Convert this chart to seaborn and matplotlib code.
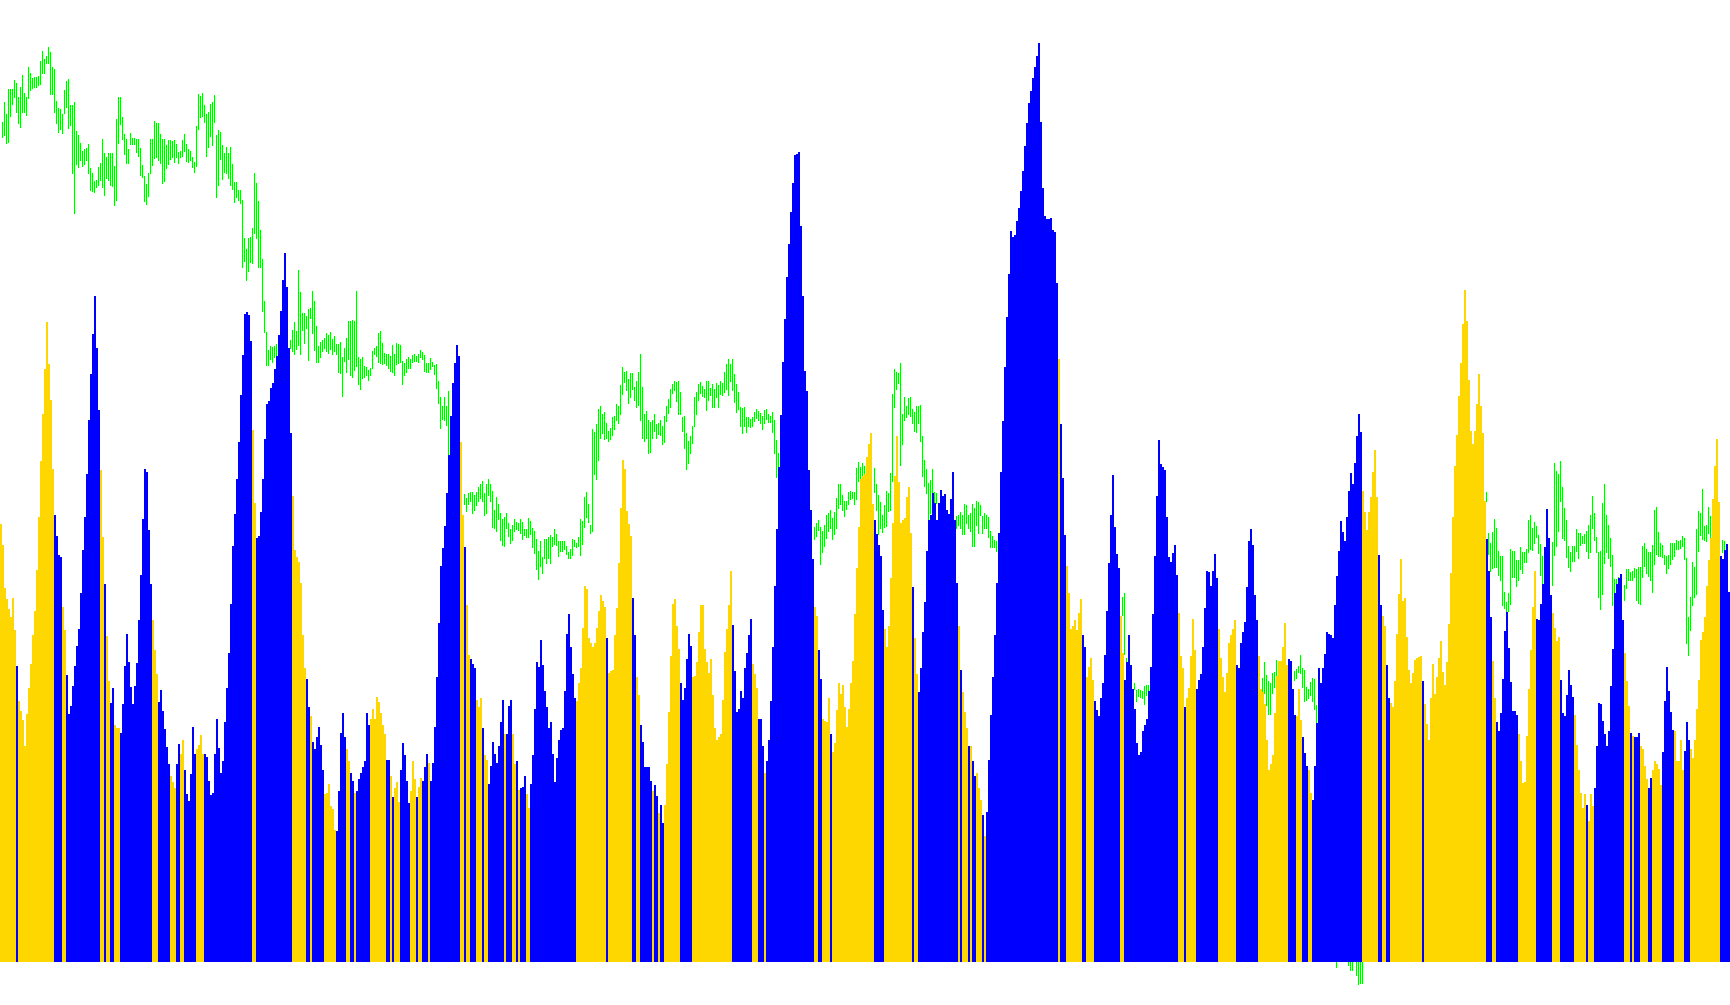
import matplotlib
matplotlib.use("Agg")
import matplotlib.pyplot as plt
import seaborn as sns
import pandas as pd
import numpy as np

# histogram height of every bar, left to right (pixels above the zero line)
bar_values = [
    438, 417, 374, 363, 353, 345, 364, 332, 296, 261,
    251, 242, 216, 248, 274, 298, 327, 351, 392, 445,
    501, 548, 593, 640, 598, 562, 493, 447, 426, 407,
    405, 355, 332, 287, 248, 256, 276, 296, 316, 333,
    369, 412, 445, 488, 542, 588, 628, 666, 614, 552,
    492, 425, 378, 326, 281, 259, 274, 237, 234, 234,
    229, 258, 296, 328, 300, 275, 258, 276, 299, 342,
    387, 443, 493, 490, 432, 378, 342, 312, 288, 260,
    272, 251, 233, 215, 198, 186, 180, 174, 198, 218,
    208, 222, 192, 168, 161, 188, 235, 208, 213, 217,
    227, 208, 208, 205, 181, 167, 169, 208, 243, 214,
    189, 201, 240, 274, 309, 358, 416, 448, 483, 520,
    567, 607, 648, 650, 647, 621, 532, 459, 424, 426,
    450, 483, 523, 558, 561, 574, 579, 593, 606, 627,
    651, 682, 709, 675, 614, 529, 466, 412, 405, 400,
    379, 327, 294, 283, 255, 246, 220, 213, 225, 235,
    217, 192, 168, 169, 178, 156, 153, 132, 131, 171,
    229, 249, 225, 213, 201, 189, 181, 169, 171, 183,
    189, 195, 201, 249, 237, 243, 253, 243, 265, 260,
    249, 237, 228, 202, 202, 186, 165, 174, 180, 160,
    192, 219, 207, 181, 159, 171, 201, 183, 165, 175,
    184, 181, 195, 208, 199, 181, 199, 235, 285, 339,
    396, 414, 436, 469, 507, 546, 579, 599, 617, 606,
    520, 447, 415, 357, 307, 303, 298, 294, 262, 255,
    264, 234, 207, 202, 178, 196, 220, 208, 199, 216,
    240, 262, 228, 228, 256, 262, 228, 198, 201, 172,
    174, 175, 186, 168, 154, 178, 207, 253, 300, 295,
    322, 297, 271, 255, 234, 240, 208, 180, 204, 222,
    232, 234, 271, 328, 348, 315, 288, 264, 261, 279,
    294, 334, 376, 373, 324, 319, 315, 319, 334, 351,
    367, 361, 355, 324, 289, 291, 292, 327, 354, 399,
    454, 502, 493, 451, 438, 426, 364, 327, 285, 267,
    237, 220, 195, 195, 195, 181, 171, 177, 166, 149,
    157, 139, 157, 198, 250, 306, 358, 363, 336, 313,
    279, 262, 274, 303, 328, 316, 285, 286, 300, 330,
    357, 357, 313, 300, 289, 303, 267, 234, 222, 225,
    228, 262, 310, 333, 357, 391, 337, 291, 250, 253,
    271, 264, 294, 309, 327, 343, 298, 288, 274, 243,
    243, 216, 189, 201, 222, 261, 315, 376, 433, 495,
    547, 600, 643, 685, 718, 750, 779, 807, 808, 810,
    736, 666, 591, 571, 492, 452, 403, 355, 346, 312,
    283, 243, 241, 240, 264, 228, 210, 219, 252, 279,
    268, 277, 255, 235, 253, 279, 301, 348, 394, 435,
    483, 486, 488, 505, 518, 529, 458, 442, 428, 417,
    406, 352, 333, 315, 336, 384, 439, 486, 526, 480,
    439, 442, 444, 465, 475, 429, 375, 324, 288, 270,
    294, 330, 360, 411, 442, 447, 469, 459, 442, 459,
    472, 466, 468, 452, 448, 463, 490, 442, 379, 336,
    292, 270, 250, 234, 216, 216, 201, 186, 189, 174,
    162, 147, 126, 150, 202, 247, 285, 327, 379, 429,
    490, 541, 595, 645, 688, 731, 725, 727, 741, 754,
    771, 791, 816, 839, 859, 871, 884, 895, 906, 919,
    840, 774, 746, 743, 743, 744, 732, 730, 679, 603,
    538, 484, 427, 396, 369, 333, 336, 342, 332, 349,
    363, 327, 315, 285, 295, 304, 282, 261, 252, 246,
    264, 279, 307, 351, 399, 447, 487, 435, 408, 394,
    346, 309, 282, 300, 327, 297, 273, 253, 219, 207,
    210, 231, 237, 243, 271, 295, 348, 406, 466, 522,
    498, 495, 492, 445, 405, 400, 409, 417, 387, 349,
    306, 294, 255, 264, 274, 306, 343, 312, 273, 282,
    288, 315, 354, 391, 390, 376, 391, 408, 384, 333,
    304, 285, 270, 289, 319, 327, 333, 342, 297, 294,
    319, 330, 340, 375, 421, 433, 417, 367, 342, 306,
    273, 270, 258, 222, 192, 198, 207, 249, 286, 301,
    301, 315, 339, 297, 303, 301, 273, 247, 246, 273,
    242, 225, 209, 196, 192, 169, 162, 196, 239, 294,
    279, 294, 308, 330, 328, 327, 324, 357, 386, 411,
    441, 430, 421, 445, 471, 489, 478, 499, 526, 548,
    530, 471, 450, 432, 450, 465, 490, 512, 465, 407,
    357, 346, 336, 297, 264, 259, 255, 281, 328, 368,
    403, 361, 364, 325, 292, 279, 289, 302, 304, 305,
    306, 281, 258, 238, 222, 264, 298, 268, 285, 304,
    321, 290, 277, 300, 338, 389, 445, 496, 527, 566,
    599, 638, 672, 641, 582, 531, 518, 531, 558, 588,
    556, 529, 461, 423, 391, 345, 301, 264, 240, 231,
    249, 283, 331, 350, 314, 280, 251, 251, 247, 228,
    201, 179, 180, 226, 273, 312, 355, 391, 343, 342,
    358, 378, 415, 453, 424, 367, 349, 334, 321, 325,
    282, 249, 246, 267, 292, 277, 265, 247, 217, 192,
    169, 154, 168, 157, 141, 168, 156, 174, 216, 259,
    258, 241, 228, 216, 231, 276, 313, 369, 378, 384,
    388, 342, 309, 281, 256, 229, 226, 225, 225, 229,
    216, 213, 196, 183, 174, 184, 192, 201, 198, 193,
    177, 210, 261, 295, 271, 250, 232, 231, 201, 201,
    222, 192, 211, 240, 222, 213, 204, 222, 253, 282,
    322, 330, 345, 376, 402, 424, 463, 496, 523, 460,
    406, 403, 412, 418, 370,
]

# colour of every bar: Y = gold, B = blue
bar_side = (
    "YYYYYYYYBY" "YYYYYYYYYY" "YYYYYYYBBB" "BYYBBBBBBB" "BBBBBBBBBB"
    "YYBYYBBYYY" "BBBBBBBBBB" "BBBBBBYYYB" "BBBBBYYYBB" "YYBBBBBBYY"
    "YYBBBBBBBB" "BBBBBBBBBB" "BBBBBBYYBB" "BBBBBBBBBB" "BBBBBBYYYY"
    "YYYBBYBBBB" "BBYYYYYYBB" "BBBYYBBYBB" "BBBBBYYYYY" "YYYBBYBYYY"
    "BBBBBYYYBY" "YBBBYBBBBB" "BBBBBBBBBB" "YYBYYBBBYY" "YBYYBBBBBB"
    "BBYBBBYYBY" "BBBYYBBBBB" "BBBBBBBBBB" "BBBBBBBBYY" "YYYYYYYYYY"
    "YYYBYYYYYY" "YYYYYYBBYY" "BBBBBBYBBY" "BBYYYYYYYY" "BBBBBBYYYY"
    "YYYYYYYYYY" "YYYYYYBBBB" "BBBBBBYYYB" "BBYBBBBBBB" "BBBBBBBBBB"
    "BBBBBBBYYB" "BYYYYBYYYY" "YYYYYYYYYY" "YYYYYYYBBB" "BBYYYYYYYY"
    "YYYYYYBYYB" "BBBBBBBBBB" "BBBBBBBBBY" "BYYYBYBBYY" "YBYBBBBBBB"
    "BBBBBBBBBB" "BBBBBBBBBB" "BBBBBBBBBY" "BBBYYYYYYY" "YBBYYYYBBB"
    "BBBBBBBBBB" "YYBBBBBBBB" "BBBBBBBBBB" "BBBBBBBBBY" "YYBYYYYYBB"
    "BBBBBBBBBY" "YYYYYYYYBB" "BBBBBBBBBY" "YYYYYYYYYY" "YYYYBBBBYY"
    "YBBBYYBBBB" "BBBBBBBBBB" "BBBBBBBBBB" "BYYYYYYYYB" "BYYBBYYYYY"
    "YYYYYYYYYY" "YBYYYYYYYY" "YYYYYYYYYY" "YYYYYYYYYY" "YYYBBBYYBB"
    "BBBBBBBBBY" "YYYYYYYYBB" "BBBBBBYYYY" "BBBBBBBYYY" "YYYBYYYBBB"
    "BBBBBBBBBB" "BBYYYBYBBB" "YYYYBBYYYY" "YBBBBBBYYY" "YYBBBYYYYY"
    "YYYYYYYYYY" "BBBBB"
)

# price bars (high, low) behind the histogram; None where fully hidden
price_range = [
    (840, 825), (860, 827), (848, 819), (873, 820), (873, 846), (873, 858), (882, 865), (879, 850), (865, 839), (875, 835),
    (887, 850), (869, 850), (865, 847), (895, 864), (889, 872), (884, 874), (885, 875), (885, 875), (886, 877), (901, 878),
    (911, 889), (903, 889), (906, 899), (915, 899), (910, 868), (895, 868), (893, 850), (861, 839), (854, 830), (853, 833),
    (848, 829), (872, 849), (881, 855), (883, 834), (857, 837), (857, 789), (860, 749), (831, 798), (827, 795), (819, 802),
    (811, 796), (813, 798), (814, 802), (818, 789), (794, 772), (789, 771), (781, 770), (782, 775), (795, 777), (799, 782),
    (823, 775), (809, 767), (805, 784), (809, 782), (809, 777), (809, 776), (796, 757), (843, 762), (865, 819), (865, 838),
    (845, 823), (828, 808), (823, 799), (813, 799), (829, 818), (824, 818), (824, 818), (823, 810), (823, 806), (814, 787),
    (797, 785), (786, 761), (778, 758), (789, 766), (823, 789), (823, 797), (841, 804), (839, 805), (839, 802), (828, 799),
    (823, 779), (823, 781), (817, 794), (822, 798), (822, 803), (821, 805), (822, 800), (818, 805), (810, 799), (811, 805),
    (822, 806), (828, 811), (818, 801), (813, 800), (811, 802), (805, 795), (800, 790), (836, 796), (868, 833), (866, 845),
    (869, 846), (857, 840), (848, 806), (850, 815), (858, 826), (860, 817), (867, 840), (827, 765), (832, 777), (830, 803),
    (817, 783), (809, 790), (815, 789), (809, 784), (815, 777), (798, 773), (780, 760), (780, 765), (772, 762), (772, 759),
    (762, 695), (724, 701), (713, 682), (724, 691), (725, 700), (734, 699), (789, 729), (779, 724), (761, 695), (732, 695),
    (703, 651), (661, 630), (630, 597), (612, 597), (616, 603), (615, 600), (616, 605), (618, 594), (618, 608), None,
    None, None, None, None, (622, 614), (632, 611), (640, 608), (631, 613), (692, 617), (670, 608),
    (649, 632), (649, 619), (646, 634), (653, 602), (654, 644), (671, 629), (661, 612), (636, 600), (616, 600), (620, 605),
    (622, 611), (624, 614), (629, 611), (627, 609), (630, 613), (623, 608), (626, 611), (618, 608), (618, 590), (620, 589),
    (605, 566), (614, 601), (624, 590), (641, 603), (641, 587), (642, 585), (641, 592), (671, 596), (605, 578), (603, 573),
    (605, 584), (596, 585), (595, 587), (592, 582), (594, 587), (611, 594), (614, 608), (616, 606), (629, 600), (631, 599),
    (619, 598), (609, 599), (608, 597), (608, 594), (606, 591), (617, 590), (608, 587), (619, 598), (618, 599), (617, 600),
    (601, 578), (599, 587), (603, 590), (605, 594), (603, 594), (607, 600), (608, 601), (606, 601), (608, 600), (612, 605),
    (610, 603), (607, 591), (599, 590), (599, 590), (604, 593), (600, 596), (597, 588), (598, 574), (581, 559), (565, 534),
    (556, 543), (565, 542), (556, 537), (571, 478), None, None, None, None, None, None,
    None, (468, 458), (464, 451), (469, 458), (470, 461), (470, 449), (467, 452), (470, 457), (475, 461), (478, 464),
    (481, 461), (469, 447), (478, 449), (483, 467), (478, 461), (471, 435), (452, 434), (465, 431), (458, 443), (449, 422),
    (443, 417), (445, 416), (449, 434), (439, 426), (433, 419), (437, 422), (443, 431), (440, 433), (439, 432), (443, 429),
    (440, 423), (433, 427), (433, 425), (444, 425), (441, 428), (434, 415), (431, 409), (423, 393), (411, 383), (421, 396),
    (405, 389), (423, 404), (423, 399), (425, 404), (427, 399), (425, 416), (433, 418), (428, 417), (421, 406), (421, 411),
    (421, 411), (421, 413), (416, 408), (410, 404), (413, 404), (423, 407), (422, 416), (419, 415), (425, 416), (443, 407),
    (441, 418), (465, 435), (470, 445), (458, 440), (437, 429), (533, 431), (530, 488), (538, 483), (553, 502), (556, 524),
    (548, 529), (550, 523), (539, 524), (531, 521), (534, 523), (545, 527), (546, 533), (558, 542), (556, 539), (577, 548),
    (595, 568), (590, 580), (591, 572), (583, 559), (589, 565), (589, 573), (575, 562), (581, 555), (590, 557), (608, 542),
    (575, 524), (548, 521), (551, 524), (542, 509), (540, 510), (542, 524), (548, 531), (538, 524), (539, 528), (542, 527),
    (536, 518), (546, 520), (556, 541), (563, 549), (573, 555), (578, 569), (581, 572), (580, 561), (581, 548), (570, 548),
    (545, 531), (546, 514), (529, 493), (521, 499), (526, 509), (536, 519), (565, 536), (570, 548), (578, 562), (580, 569),
    (576, 566), (573, 565), (581, 552), (581, 562), (574, 567), (578, 555), (573, 555), (579, 565), (577, 555), (581, 568),
    (579, 567), (590, 570), (598, 573), (603, 567), (598, 581), (603, 572), (588, 560), (578, 550), (570, 553), (555, 536),
    (554, 529), (555, 536), (545, 530), (545, 536), (543, 535), (545, 536), (550, 541), (553, 544), (551, 542), (549, 539),
    (546, 533), (552, 539), (553, 543), (548, 540), (546, 540), (550, 530), (542, 509), (522, 485), (509, 475), None,
    *([None] * 16),
    (435, 423), (439, 426), (442, 432), (435, 398),
    (431, 410), (437, 416), (447, 424), (449, 431), (452, 434), (444, 423), (450, 428), (464, 434), (478, 454), (478, 458),
    (467, 452), (461, 446), (461, 453), (470, 458), (471, 463), (470, 464), (470, 458), (494, 463), (500, 481), (495, 481),
    (499, 485), (496, 485), (499, 487), (505, 488), None, None, (494, 470), (478, 452), (467, 428), (460, 434),
    (447, 430), (457, 435), (471, 436), (469, 451), (489, 452), (568, 481), (593, 555), (590, 573), (589, 579), (599, 497),
    (548, 518), (565, 542), (556, 545), (564, 548), (565, 546), (553, 539), (550, 531), (556, 530), (556, 539), (557, 521),
    (526, 486), (502, 476), (493, 469), (479, 441), (482, 449), (493, 449), (470, 458), (469, 459), None, None,
    None, None, None, None, None, None, None, (446, 434), (447, 437), (450, 434),
    (447, 428), (458, 428), (457, 439), (447, 434), (449, 431), (458, 416), (454, 416), (461, 437), (460, 429), (457, 447),
    (446, 429), (449, 434), (447, 434), (445, 425), (431, 415), (426, 415), (422, 415), (421, 411), (421, 408), None,
    *([None] * 49),
    (252, 246),
    *([None] * 10),
    (365, 347), (369, 308), (304, 290), None, None, None, (279, 273), (272, 261), (273, 266), (272, 265),
    (271, 264), (276, 258), (277, 267), (277, 270), (279, 272), None, None, None, None, None,
    *([None] * 50),
    (284, 269), (300, 269), (287, 257), (281, 248), (279, 248), (289, 269), (290, 275), (302, 287), (299, 287), (300, 289),
    None, None, None, (301, 295), None, None, (291, 282), (293, 284), (296, 290), (307, 289),
    (294, 275), (292, 261), (275, 262), (273, 264), (280, 267), (284, 261), (283, 253), (257, 233), (249, 241), None,
    None, None, None, None, None, None, None, (40, -5), None, None,
    None, None, None, (25, -3), (20, -8), (22, -8), None, (15, -13), (10, -22), (12, -21),
    (14, -21), None, None, None, None, None, None, None, None, None,
    *([None] * 50),
    None, None, (470, 461), (429, 408), (419, 391), (430, 394), (443, 395), (434, 395), (411, 387), (406, 382),
    (406, 357), (370, 354), (360, 332), (369, 351), (413, 358), (411, 385), (411, 385), (402, 376), (402, 382), (415, 393),
    (410, 389), (410, 400), (413, 400), (442, 410), (447, 413), (434, 412), (440, 419), (436, 425), (427, 409), (418, 387),
    (406, 376), (387, 377), None, None, None, (420, 377), (499, 407), (491, 416), (488, 431), (501, 461),
    (475, 424), (454, 422), (442, 405), (416, 395), (410, 391), (416, 401), (416, 401), (433, 411), (429, 404), (429, 417),
    (426, 419), (428, 419), (431, 411), (437, 404), (447, 410), (466, 434), (449, 422), (425, 410), (410, 365), (411, 353),
    (459, 368), (478, 399), (447, 410), (437, 404), (424, 396), (407, 357), (383, 362), (383, 371), (385, 375), None,
    None, (377, 362), (393, 374), (393, 382), (390, 382), (391, 382), (394, 385), (393, 362), (395, 359), (395, 358),
    (416, 385), (419, 396), (413, 389), (410, 386), (410, 382), (417, 370), (452, 398), (455, 408), (430, 406), (419, 406),
    (417, 405), (407, 398), (406, 389), (407, 394), (419, 398), (419, 403), (419, 406), (422, 413), (421, 413), (422, 414),
    (426, 416), (424, 403), (404, 319), (345, 307), (365, 332), (400, 357), (395, 365), (433, 368), (451, 411), (449, 427),
    (473, 423), (436, 422), (437, 421), (455, 429), (446, 423), (438, 428), None, None, None, None,
    (422, 410), (421, 404), None, None, (386, 371),
]

n = len(bar_values)
df = pd.DataFrame({'bar': np.arange(n), 'value': bar_values, 'side': list(bar_side[:n])})

sns.set_theme(style='white')
fig = plt.figure(figsize=(17.3, 10.05), dpi=100, facecolor='white')
ax = fig.add_axes([0, 0, 1, 1])

sns.barplot(data=df, x='bar', y='value', hue='side',
            palette={'Y': '#FFD700', 'B': '#0000FF'}, saturation=1,
            width=1, dodge=False, errorbar=None, legend=False,
            linewidth=0, antialiased=False, zorder=2, ax=ax)

# price bars sit behind the histogram, one pixel wide
idx = [i for i, r in enumerate(price_range) if r is not None]
highs = [price_range[i][0] for i in idx]
lows = [price_range[i][1] for i in idx]
ax.vlines(np.array(idx) + 0.25, lows, highs, color='#1edc1e',
          linewidth=0.72, antialiased=False, zorder=1)

ax.set_xlim(-0.5, n - 0.5)
ax.set_ylim(-43, 962)
ax.axis('off')

fig.savefig('out.png', dpi=100, facecolor='white')
